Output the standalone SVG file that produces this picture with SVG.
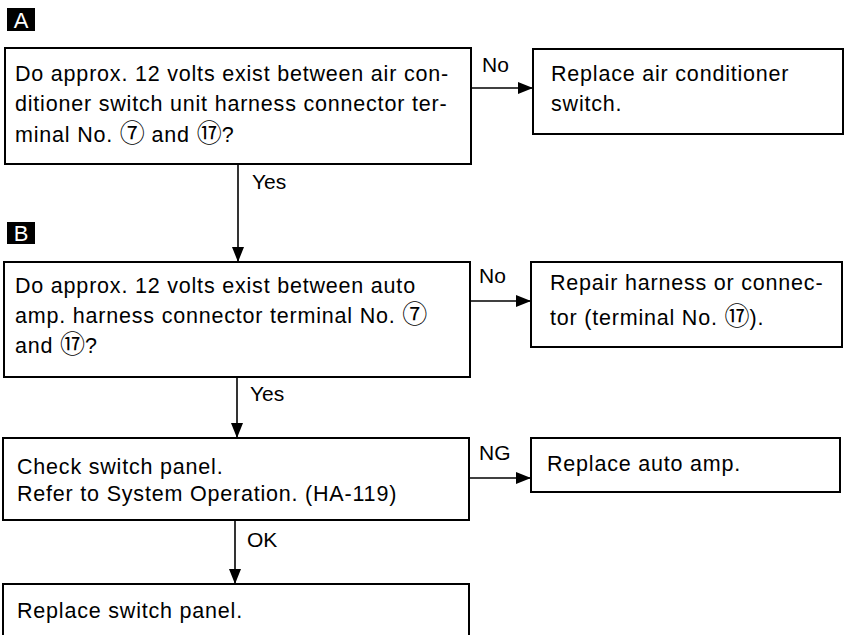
<svg xmlns="http://www.w3.org/2000/svg" width="850" height="635" viewBox="0 0 850 635">
<defs>
<marker id="ah" markerWidth="15" markerHeight="12" refX="15" refY="6" orient="auto" markerUnits="userSpaceOnUse">
<path d="M0,0 L15,6 L0,12 Z" fill="#000"/>
</marker>
<style>
.box{fill:#fff;stroke:#000;stroke-width:2}
.t{font-family:"Liberation Sans","Noto Sans CJK JP",sans-serif;font-size:21.5px;letter-spacing:0.8px;fill:#000}
.n{font-size:25px;letter-spacing:0}
.lbl{font-family:"Liberation Sans","Noto Sans CJK JP",sans-serif;font-size:21px;fill:#000}
.badge{fill:#000}
.bt{font-family:"Liberation Sans",sans-serif;font-size:22px;fill:#fff;text-anchor:middle}
.c{stroke:#000;stroke-width:1.6;fill:none;marker-end:url(#ah)}
</style>
</defs>
<rect width="850" height="635" fill="#fff"/>
<g id="badgeA"><rect class="badge" x="7" y="8" width="28" height="23"/><text class="bt" x="21" y="28">A</text></g>
<g id="badgeB"><rect class="badge" x="7" y="222" width="28" height="22"/><text class="bt" x="21" y="241">B</text></g>
<g id="connectors">
<line class="c" x1="471" y1="88" x2="533" y2="88"/>
<line class="c" x1="238" y1="164" x2="238" y2="262"/>
<line class="c" x1="470" y1="301" x2="531" y2="301"/>
<line class="c" x1="237" y1="377" x2="237" y2="438"/>
<line class="c" x1="469" y1="478" x2="531" y2="478"/>
<line class="c" x1="235" y1="520" x2="235" y2="584"/>
<text class="lbl" x="482" y="72">No</text>
<text class="lbl" x="252" y="189">Yes</text>
<text class="lbl" x="479" y="283">No</text>
<text class="lbl" x="250" y="401">Yes</text>
<text class="lbl" x="479" y="460">NG</text>
<text class="lbl" x="247" y="547">OK</text>
</g>
<g id="n1"><rect class="box" x="5" y="48" width="466" height="116"/>
<text class="t" x="15" y="81">Do approx. 12 volts exist between air con-</text>
<text class="t" x="15" y="111">ditioner switch unit harness connector ter-</text>
<text class="t" x="15" y="142">minal No. <tspan class="n">⑦</tspan>  and <tspan class="n">⑰</tspan>?</text></g>
<g id="n2"><rect class="box" x="533" y="49" width="310" height="85"/>
<text class="t" x="551" y="81">Replace air conditioner</text>
<text class="t" x="551" y="111">switch.</text></g>
<g id="n3"><rect class="box" x="4" y="262" width="466" height="115"/>
<text class="t" x="15" y="293">Do approx. 12 volts exist between auto</text>
<text class="t" x="15" y="323">amp. harness connector terminal No. <tspan class="n">⑦</tspan></text>
<text class="t" x="15" y="353">and <tspan class="n">⑰</tspan>?</text></g>
<g id="n4"><rect class="box" x="531" y="262" width="311" height="85"/>
<text class="t" x="550" y="290">Repair harness or connec-</text>
<text class="t" x="550" y="325">tor (terminal No. <tspan class="n">⑰</tspan>).</text></g>
<g id="n5"><rect class="box" x="3" y="438" width="466" height="82"/>
<text class="t" x="17" y="474">Check switch panel.</text>
<text class="t" x="17" y="501">Refer to System Operation. (HA-119)</text></g>
<g id="n6"><rect class="box" x="531" y="438" width="309" height="54"/>
<text class="t" x="547" y="471">Replace auto amp.</text></g>
<g id="n7"><rect class="box" x="3" y="584" width="466" height="60"/>
<text class="t" x="17" y="618">Replace switch panel.</text></g>
</svg>
